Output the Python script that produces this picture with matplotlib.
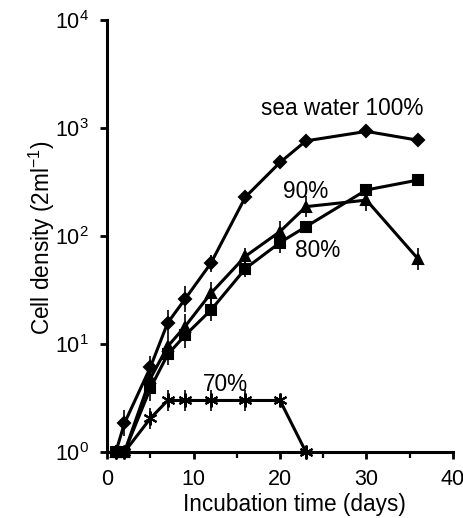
import numpy as np
import matplotlib
matplotlib.use("Agg")
import matplotlib.pyplot as plt
from matplotlib.ticker import LogLocator, NullLocator, MultipleLocator, FixedLocator

plt.rcParams['font.family'] = ['Liberation Sans', 'DejaVu Sans']
plt.rcParams['mathtext.default'] = 'regular'

# days of sampling
days = [1, 2, 5, 7, 9, 12, 16, 20, 23, 30, 36]
days_70 = [1, 2, 5, 7, 9, 12, 16, 20, 23]

# cell density per salinity
sw100 = [1, 1.85, 6.1, 15.7, 26, 56, 230, 480, 760, 930, 770]
sw90 = [1, 1, 4.8, 9.5, 14.5, 29.5, 65, 110, 187, 215, 61]
sw80 = [1, 1, 3.9, 8, 12, 20.6, 50, 87, 122, 267, 330]
sw70 = [1, 1, 2.05, 3.0, 3.0, 3.0, 3.0, 3.0, 1]

# half-length of error bars, in decades
err100 = [0, 0.12, 0.1, 0.12, 0.12, 0.08, 0.05, 0, 0, 0, 0]
err90 = [0, 0, 0.1, 0.1, 0.12, 0.1, 0.08, 0.1, 0.1, 0.1, 0.1]
err80 = [0, 0, 0.12, 0.1, 0.12, 0.1, 0.08, 0.1, 0.05, 0.05, 0.05]
err70 = [0, 0, 0.1, 0.1, 0.1, 0.1, 0.1, 0, 0]

labels = ["sea water 100%", "90%", "80%", "70%"]


def yerr(y, e):
    y = np.array(y, float)
    e = np.array(e, float)
    return [y - y * 10 ** -e, y * 10 ** e - y]


fig = plt.figure(figsize=(4.64, 5.18), dpi=100)
ax = fig.add_axes([0.231, 0.1274, 0.745, 0.834])

series = [
    (days, sw100, err100, 'D', 6.5),
    (days, sw90, err90, '^', 7.5),
    (days, sw80, err80, 's', 6.5),
    (days_70, sw70, err70, (6, 2, 0), 10),
]
for x, y, e, m, ms in series:
    ax.errorbar(x, y, yerr=yerr(y, e), color='black', lw=2.2, marker=m,
                ms=ms, mew=1.5, elinewidth=1.2, capsize=0, clip_on=False,
                zorder=3)

ax.set_yscale('log')
ax.set_ylim(1, 1e4)
ax.set_xlim(0, 40)

ax.yaxis.set_major_locator(LogLocator(base=10, numticks=10))
ax.yaxis.set_minor_locator(NullLocator())
ax.xaxis.set_major_locator(MultipleLocator(10))
ax.xaxis.set_minor_locator(FixedLocator([5, 15, 25, 35]))

for s in ['top', 'right']:
    ax.spines[s].set_visible(False)
for s in ['left', 'bottom']:
    ax.spines[s].set_linewidth(2.2)

ax.tick_params(axis='both', which='major', direction='out', length=5,
               width=2, labelsize=15.5)
ax.tick_params(axis='x', which='major', pad=7)
ax.tick_params(axis='y', which='major', pad=8)
ax.tick_params(axis='x', which='minor', direction='out', length=4, width=1.6)

ax.set_xlabel("Incubation time (days)", fontsize=16.3, va='center')
ax.xaxis.set_label_coords(0.543, -0.121)
ax.set_ylabel("Cell density (2ml$^{-1}$)", fontsize=16.3, va='center')
ax.yaxis.set_label_coords(-0.188, 0.495)

ax.text(27.2, 1530, labels[0], fontsize=16.3, ha='center', va='center')
ax.text(23.0, 257, labels[1], fontsize=16.3, ha='center', va='center')
ax.text(24.3, 74, labels[2], fontsize=16.3, ha='center', va='center')
ax.text(13.7, 4.2, labels[3], fontsize=16.3, ha='center', va='center')

fig.savefig("out.png", dpi=100)
